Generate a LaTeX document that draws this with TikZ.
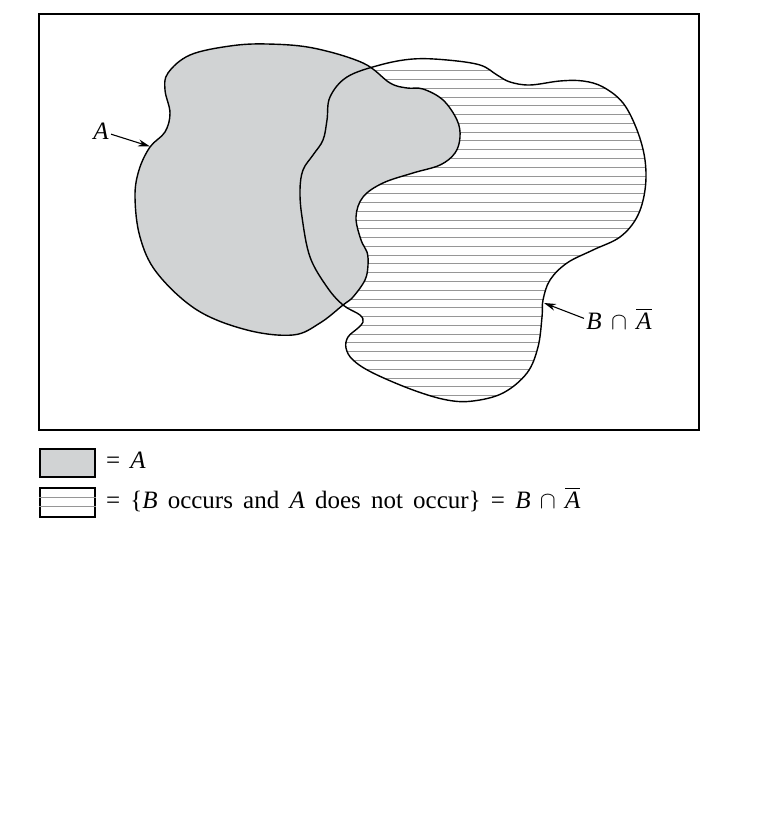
\documentclass[tikz,border=0pt]{standalone}
\usepackage{amsmath}
\usepackage{fontspec}
\setmainfont{Liberation Serif}
\usetikzlibrary{arrows.meta,positioning}
\definecolor{shadeA}{RGB}{209,211,212}
\definecolor{hatchgray}{RGB}{150,150,150}
\newcommand{\lblfont}{\fontsize{12.5}{15}\selectfont\spaceskip 5.1pt plus 1pt minus 1pt\relax}

\newcommand{\regionA}{plot[smooth cycle, tension=0.6] coordinates {(168,73) (190,55) (230,46) (267,44) (313,48) (363,63) (390,83) (407,88) (423,89) (443,100) (457,120) (460,137) (455,153) (440,165) (413,173) (383,183) (363,197) (356,217) (361,240) (367,252) (368,265) (365,280) (353,297) (343,305) (320,323) (293,335) (247,330) (197,310) (157,273) (140,237) (135,197) (139,170) (150,147) (165,132) (170,113) (165,90)}}
\newcommand{\regionB}{plot[smooth cycle, tension=0.6] coordinates {(330,97) (347,77) (380,65) (413,59) (447,60) (480,65) (497,75) (510,82) (530,85) (560,81) (583,81) (603,87) (623,103) (637,130) (645,160) (645,190) (637,217) (620,237) (593,250) (567,263) (550,280) (543,300) (542,317) (538,347) (527,373) (503,393) (473,401) (447,400) (413,390) (373,373) (353,360) (346,348) (348,337) (358,328) (363,322) (360,315) (343,305) (327,287) (310,257) (302,217) (300,190) (303,170) (313,155) (323,140) (327,120)}}

\begin{document}
\begin{tikzpicture}[x=0.5pt, y=-0.5pt, outline/.style={draw=black, line width=0.7pt}, hatchline/.style={draw=hatchgray, line width=0.45pt}, legbox/.style={rectangle, draw, line width=0.8pt, minimum width=27.5pt, minimum height=14pt, inner sep=0pt, anchor=north west}, lbl/.style={font=\lblfont, inner sep=1pt}, pointer/.style={-{Stealth[length=6pt, width=3.5pt]}, line width=0.55pt}]
  \useasboundingbox (0,0) rectangle (757,817);
  \draw[line width=0.8pt] (39,14) rectangle (699,430);

  % B, hatched
  \begin{scope}
    \clip \regionB;
    \foreach \yy in {70.7,79.48,...,400} \draw[hatchline] (290,\yy) -- (660,\yy);
  \end{scope}
  % A, shaded
  \fill[shadeA] \regionA;
  \draw[outline] \regionB;
  \draw[outline] \regionA;

  \coordinate (tipA) at (150,146.5);
  \coordinate (tipB) at (544,303);
  \node[lbl] (labA) at (101,131) {\textit{A}};
  \node[lbl, anchor=base west] (labB) at (584,329) {$\textit{B}\,\cap\,\overline{\textit{A}}$};
  \draw[pointer] (labA) -- (tipA);
  \draw[pointer] (labB.west) -- (tipB);

  % legend
  \node[legbox, fill=shadeA] (keyA) at (39,448) {};
  \node[legbox, minimum height=14.5pt] (keyB) at (39,487) {};
  \foreach \yy in {497,506} \draw[hatchline] (keyB.west |- 0,\yy) -- (keyB.east |- 0,\yy);
  \node[lbl, right=4pt of keyA, text height=9pt, text depth=3pt] (txtA) {= \textit{A}};
  \node[lbl, right=4pt of keyB, text height=9pt, text depth=3pt] (txtB) {= \{\textit{B} occurs and \textit{A} does not occur\} = $\textit{B}\,\cap\,\overline{\textit{A}}$};
\end{tikzpicture}
\end{document}
